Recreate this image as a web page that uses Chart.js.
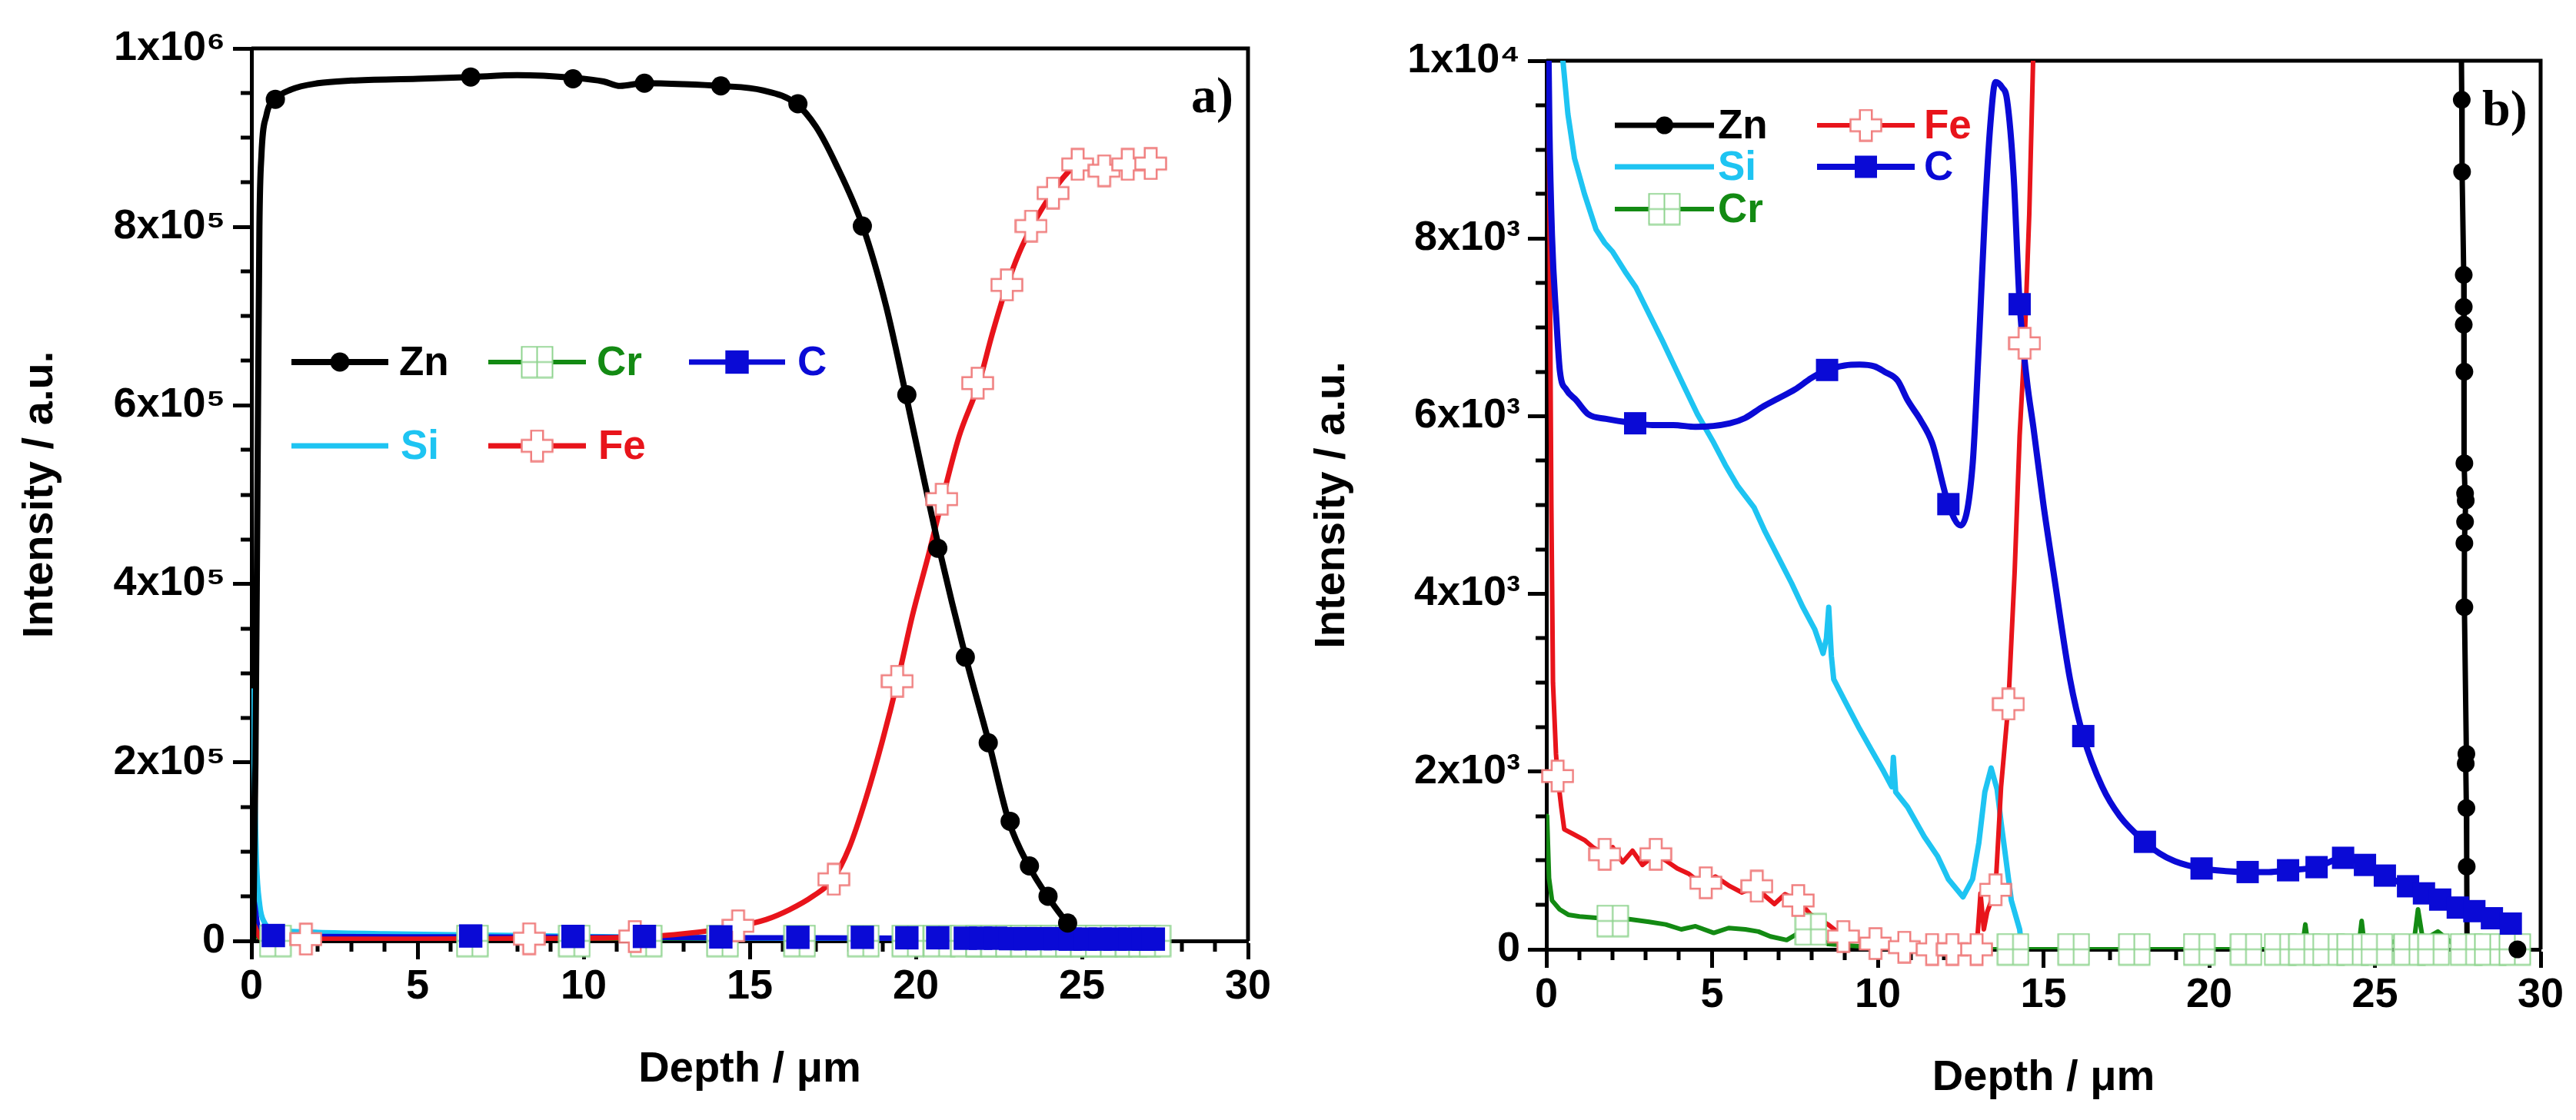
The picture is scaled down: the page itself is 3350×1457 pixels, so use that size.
<!DOCTYPE html>
<html>
<head>
<meta charset="utf-8">
<script src="https://cdn.jsdelivr.net/npm/chart.js@4.4.1/dist/chart.umd.min.js"></script>
<style>
    body { margin: 0; background: #fff; }
    #wrap { position: relative; width: 3350px; height: 1457px; }
    .panel { position: absolute; top: 0; width: 1675px; height: 1457px; }
</style>
</head>
<body>
<div id="wrap">
    <div class="panel" style="left:0"><canvas id="chartA" width="1675" height="1457"></canvas></div>
    <div class="panel" style="left:1675px"><canvas id="chartB" width="1675" height="1457"></canvas></div>
</div>
<script>
// ---------- axis ticks ----------
const xTickVals = [0, 5, 10, 15, 20, 25, 30];
const yTickValsA = [0, 200000, 400000, 600000, 800000, 1000000];
const yTickLabelsA = ['0', '2x10⁵', '4x10⁵', '6x10⁵', '8x10⁵', '1x10⁶'];
const yTickValsB = [0, 2000, 4000, 6000, 8000, 10000];
const yTickLabelsB = ['0', '2x10³', '4x10³', '6x10³', '8x10³', '1x10⁴'];

// ---------- panel a) ----------
const znDepthA = [0.05, 0.12, 0.18, 0.24, 0.3, 0.45, 0.72, 1.2, 2, 3, 5, 6.6, 8, 9.7, 10.6, 11.1, 11.8, 13, 14.1, 15.4, 16.4, 17, 17.6, 18.4, 19.1, 19.7, 20.2, 20.7, 21.5, 22.2, 22.8, 23.4, 24, 24.6, 24.9];
const znIntA = [0, 200000, 500000, 800000, 880000, 925000, 943000, 954000, 961000, 964000, 966000, 968000, 970000, 967000, 963000, 958000, 961000, 960000, 958000, 953000, 938000, 912000, 870000, 801000, 712000, 612000, 525000, 440000, 318000, 222000, 134000, 84000, 48000, 18000, 5000];
const znMarkDepthA = [0.72, 6.6, 9.68, 11.83, 14.13, 16.45, 18.39, 19.73, 20.66, 21.49, 22.18, 22.84, 23.42, 23.98, 24.57];
const znMarkIntA = [943000, 968000, 966000, 961000, 958000, 938000, 801000, 612000, 440000, 318000, 222000, 134000, 84000, 50000, 20000];

const feDepthA = [0.05, 0.3, 2, 5, 8, 10, 12, 13.5, 14.6, 15.5, 16.2, 16.9, 17.5, 18, 18.5, 19, 19.45, 19.9, 20.4, 20.8, 21.3, 21.9, 22.3, 22.75, 23.1, 23.5, 24.1, 24.5, 24.9, 25.3, 25.7, 26.4, 27.1];
const feIntA = [20000, 3000, 2000, 2000, 2500, 3000, 5000, 10000, 16000, 24000, 35000, 50000, 69000, 105000, 160000, 225000, 291000, 365000, 435000, 495000, 565000, 625000, 680000, 735000, 770000, 801000, 838000, 858000, 870000, 866000, 863000, 869000, 872000];
const feMarkDepthA = [1.64, 8.36, 11.54, 14.65, 17.53, 19.44, 20.78, 21.86, 22.74, 23.47, 24.13, 24.87, 25.67, 26.38, 27.07];
const feMarkIntA = [2000, 2500, 5000, 17000, 69000, 291000, 495000, 625000, 735000, 801000, 838000, 870000, 863000, 870000, 871000];

const siDepthA = [0.03, 0.08, 0.15, 0.25, 0.4, 0.6, 1, 2, 4, 7, 10, 14, 18, 22, 27.3];
const siIntA = [280000, 200000, 90000, 40000, 20000, 13000, 11000, 9500, 8000, 6500, 5000, 3500, 2500, 1500, 1000];

const cDepthA = [0.03, 0.1, 0.2, 0.4, 0.7, 2, 6, 10, 15, 20, 27.2];
const cIntA = [55000, 40000, 15000, 8000, 6000, 5000, 4500, 4000, 3500, 3000, 2000];
const cMarkDepthA = [0.66, 6.6, 9.68, 11.83, 14.13, 16.45, 18.39, 19.73, 20.66, 21.49, 21.95, 22.4, 22.85, 23.3, 23.75, 24.2, 24.65, 25.1, 25.55, 26.0, 26.45, 26.85, 27.15];
const cMarkIntA = [6000, 5500, 5000, 5000, 4500, 4000, 4000, 3500, 3500, 3000, 3000, 3000, 2500, 2500, 2500, 2500, 2000, 2000, 2000, 2000, 2000, 2000, 2000];

const crDepthA = [0.03, 0.2, 1, 27.2];
const crIntA = [15000, 4000, 1500, 1000];
const crMarkDepthA = [0.72, 6.65, 9.72, 11.88, 14.18, 16.5, 18.42, 19.76, 20.7, 21.52, 21.98, 22.43, 22.88, 23.33, 23.78, 24.23, 24.68, 25.13, 25.58, 26.03, 26.48, 26.88, 27.2];
const crMarkIntA = [0, 0, 0, 0, 0, 0, 0, 0, 0, 0, 0, 0, 0, 0, 0, 0, 0, 0, 0, 0, 0, 0, 0];

// ---------- panel b) ----------
const znDepthB = [27.6, 27.62, 27.63, 27.68, 27.68, 27.68, 27.7, 27.7, 27.72, 27.74, 27.72, 27.7, 27.7, 27.76, 27.74, 27.76, 27.77, 27.78, 29.3];
const znIntB = [10500, 9560, 8750, 7590, 7230, 7030, 6500, 5470, 5130, 5050, 4810, 4570, 3850, 2200, 2090, 1590, 930, 0, 0];
const znMarkDepthB = [27.62, 27.63, 27.68, 27.68, 27.68, 27.7, 27.7, 27.72, 27.74, 27.72, 27.7, 27.7, 27.76, 27.74, 27.76, 27.77, 29.3];
const znMarkIntB = [9560, 8750, 7590, 7230, 7030, 6500, 5470, 5130, 5050, 4810, 4570, 3850, 2200, 2090, 1590, 930, 0];

const cDepthB = [0.05, 0.09, 0.17, 0.3, 0.41, 0.6, 0.9, 1.27, 1.8, 2.68, 3.2, 3.83, 4.5, 5.54, 6.0, 6.5, 7.0, 7.5, 8.0, 8.47, 9.0, 9.45, 9.9, 10.2, 10.6, 10.9, 11.3, 11.64, 12.13, 12.5, 12.86, 13.05, 13.23, 13.4, 13.55, 13.75, 13.9, 14.1, 14.28, 14.5, 14.7, 15.0, 15.3, 15.8, 16.2, 16.77, 17.3, 18.06, 18.5, 18.97, 19.77, 20.5, 21.16, 21.8, 22.38, 23.24, 24.04, 24.7, 25.3, 26.0, 26.48, 26.97, 27.5, 28.0, 28.53, 29.1];
const cIntB = [10600, 9300, 8030, 7100, 6500, 6300, 6180, 6020, 5970, 5920, 5900, 5900, 5880, 5920, 5980, 6100, 6200, 6300, 6430, 6520, 6570, 6580, 6560, 6500, 6400, 6180, 5950, 5700, 5010, 4770, 5450, 6800, 8270, 9300, 9760, 9700, 9560, 8700, 7260, 6400, 5860, 5000, 4250, 3040, 2400, 1830, 1500, 1210, 1080, 990, 910, 880, 870, 870, 890, 925, 1030, 950, 830, 710, 630, 560, 470, 430, 350, 290];
const cMarkDepthB = [2.68, 8.47, 12.13, 14.28, 16.2, 18.06, 19.77, 21.16, 22.38, 23.24, 24.04, 24.7, 25.3, 26.0, 26.48, 26.97, 27.5, 28.0, 28.53, 29.1];
const cMarkIntB = [5920, 6520, 5010, 7260, 2400, 1210, 910, 870, 890, 925, 1030, 950, 830, 710, 630, 560, 470, 430, 350, 290];

const siDepthB = [0.45, 0.5, 0.65, 0.85, 1.15, 1.5, 1.76, 2.0, 2.37, 2.7, 3.1, 3.5, 3.83, 4.2, 4.56, 5.05, 5.4, 5.78, 6.27, 6.6, 7.0, 7.4, 7.74, 8.1, 8.35, 8.45, 8.52, 8.6, 8.67, 9.0, 9.45, 9.8, 10.18, 10.42, 10.47, 10.54, 10.9, 11.4, 11.8, 12.13, 12.57, 12.86, 13.05, 13.23, 13.42, 13.6, 13.72, 14.03, 14.28, 14.35];
const siIntB = [10500, 10000, 9400, 8900, 8500, 8100, 7950, 7850, 7630, 7450, 7150, 6850, 6590, 6300, 6020, 5700, 5450, 5210, 4970, 4700, 4410, 4120, 3850, 3600, 3330, 3500, 3850, 3300, 3040, 2800, 2480, 2250, 2000, 1830, 2160, 1770, 1600, 1270, 1050, 790, 590, 790, 1200, 1770, 2040, 1800, 1430, 550, 225, 0];

const feDepthB = [0.05, 0.1, 0.15, 0.2, 0.29, 0.34, 0.45, 0.54, 0.8, 1.15, 1.4, 1.76, 2.0, 2.3, 2.6, 2.9, 3.3, 3.6, 3.95, 4.3, 4.6, 4.81, 5.1, 5.54, 5.9, 6.35, 6.6, 6.88, 7.2, 7.6, 7.98, 8.5, 8.96, 9.5, 9.93, 10.4, 10.8, 11.2, 11.64, 12.25, 12.7, 12.98, 13.1, 13.2, 13.3, 13.55, 13.72, 13.94, 14.13, 14.28, 14.43, 14.57, 14.72];
const feIntB = [10500, 8000, 5000, 3000, 2200, 1950, 1600, 1350, 1300, 1230, 1150, 1070, 1150, 980, 1110, 950, 1070, 1000, 910, 850, 760, 750, 820, 710, 640, 710, 600, 510, 620, 550, 390, 280, 145, 90, 65, 40, 25, 10, 0, 0, 30, 0, 630, 225, 420, 670, 1830, 2760, 4250, 5780, 6820, 8270, 10500];
const feMarkDepthB = [0.34, 1.76, 3.3, 4.81, 6.35, 7.6, 8.96, 9.93, 10.8, 11.64, 12.25, 12.98, 13.55, 13.94, 14.43];
const feMarkIntB = [1950, 1070, 1070, 750, 710, 550, 145, 65, 25, 0, 0, 0, 670, 2760, 6820];

const crDepthB = [0.02, 0.08, 0.17, 0.4, 0.66, 1.0, 1.64, 2.0, 2.5, 3.1, 3.6, 4.07, 4.5, 5.05, 5.5, 6.0, 6.4, 6.76, 7.25, 7.6, 7.9, 8.5, 10, 12, 14, 16, 18, 20, 22, 22.8, 22.9, 23.0, 23.5, 24.5, 24.6, 24.7, 25.5, 26.2, 26.3, 26.45, 26.9, 27.3, 27.6, 28.2, 29.3];
const crIntB = [1500, 800, 550, 450, 390, 370, 350, 310, 340, 310, 280, 225, 260, 185, 240, 225, 200, 145, 105, 180, 225, 60, 20, 0, 0, 0, 0, 0, 0, 0, 280, 0, 50, 0, 320, 0, 80, 150, 450, 100, 200, 80, 150, 0, 0];
const crMarkDepthB = [2.0, 7.98, 14.08, 15.91, 17.74, 19.7, 21.11, 22.14, 22.87, 23.6, 24.33, 25.06, 26.04, 26.77, 27.75, 28.48, 29.22];
const crMarkIntB = [320, 225, 0, 0, 0, 0, 0, 0, 0, 0, 0, 0, 0, 0, 0, 0, 0];

// ---------- styles ----------
const FONT = "'Liberation Sans', Arial, sans-serif";
const COL = { zn: '#000000', cr: '#138a13', c: '#0a0ad6', si: '#1ec4f2', fe: '#e8141b' };

function crossMarker(size, stroke, fill) {
    const c = document.createElement('canvas');
    c.width = c.height = size;
    const g = c.getContext('2d');
    const p = 1.5, a = size * 0.32, b = size * 0.68, e = size - p;
    g.beginPath();
    g.moveTo(a, p); g.lineTo(b, p); g.lineTo(b, a); g.lineTo(e, a); g.lineTo(e, b);
    g.lineTo(b, b); g.lineTo(b, e); g.lineTo(a, e); g.lineTo(a, b); g.lineTo(p, b);
    g.lineTo(p, a); g.lineTo(a, a); g.closePath();
    g.fillStyle = fill; g.fill();
    g.strokeStyle = stroke; g.lineWidth = 2.5; g.stroke();
    return c;
}

function gridMarker(size, stroke, fill) {
    const c = document.createElement('canvas');
    c.width = c.height = size;
    const g = c.getContext('2d');
    const p = 1.5, m = size / 2;
    g.fillStyle = fill;
    g.fillRect(p, p, size - 2 * p, size - 2 * p);
    g.strokeStyle = stroke; g.lineWidth = 2;
    g.strokeRect(p, p, size - 2 * p, size - 2 * p);
    g.beginPath();
    g.moveTo(m, p); g.lineTo(m, size - p);
    g.moveTo(p, m); g.lineTo(size - p, m);
    g.stroke();
    return c;
}

const feMark = crossMarker(43, '#f07f7f', '#ffffff');
const crMark = gridMarker(43, '#8fd48f', '#ffffff');

function pts(xs, ys) {
    return xs.map((x, i) => ({ x: x, y: ys[i] }));
}

function lineSet(label, xs, ys, color, width, smooth, order) {
    return {
        label: label,
        data: pts(xs, ys),
        showLine: true,
        borderColor: color,
        backgroundColor: color,
        borderWidth: width,
        borderJoinStyle: 'round',
        borderCapStyle: 'round',
        pointRadius: 0,
        pointHoverRadius: 0,
        cubicInterpolationMode: smooth ? 'monotone' : 'default',
        tension: 0,
        order: order
    };
}

function markSet(label, xs, ys, style, radius, fill, stroke, order) {
    return {
        label: label,
        data: pts(xs, ys),
        showLine: false,
        pointStyle: style,
        pointRadius: radius,
        pointHoverRadius: radius,
        pointBackgroundColor: fill,
        pointBorderColor: stroke,
        pointBorderWidth: 0,
        clip: false,
        order: order
    };
}

// ---------- plugin: frame, minor ticks, legend, panel letter ----------
const extras = {
    id: 'extras',
    beforeDatasetsDraw(chart, args, opts) {
        const { ctx, chartArea: a, scales: { x, y } } = chart;
        ctx.save();
        ctx.strokeStyle = '#000';
        ctx.lineWidth = 5;
        ctx.beginPath();
        ctx.moveTo(a.left, a.top);
        ctx.lineTo(a.right, a.top);
        ctx.lineTo(a.right, a.bottom);
        ctx.stroke();

        // minor ticks
        ctx.beginPath();
        for (let v = 1; v < 30; v++) {
            if (v % 5 === 0) continue;
            const px = Math.round(x.getPixelForValue(v));
            ctx.moveTo(px, a.bottom);
            ctx.lineTo(px, a.bottom + 14);
        }
        for (let i = 1; i < 20; i++) {
            if (i % 4 === 0) continue;
            const py = Math.round(y.getPixelForValue(i * opts.yMinor));
            ctx.moveTo(a.left, py);
            ctx.lineTo(a.left - 14, py);
        }
        ctx.stroke();
        ctx.restore();
    },
    afterDatasetsDraw(chart, args, opts) {
        const ctx = chart.ctx;
        const sets = chart.data.datasets;
        const find = (label) => sets.find(d => d.label === label);
        ctx.save();
        opts.legend.forEach(item => {
            const ln = find(item.line);
            ctx.strokeStyle = ln.borderColor;
            ctx.lineWidth = ln.borderWidth;
            ctx.beginPath();
            ctx.moveTo(item.x1, item.y);
            ctx.lineTo(item.x2, item.y);
            ctx.stroke();
            if (item.mark) {
                const mk = find(item.mark);
                ctx.fillStyle = mk.pointBackgroundColor;
                ctx.strokeStyle = mk.pointBorderColor;
                Chart.helpers.drawPoint(ctx, {
                    pointStyle: mk.pointStyle,
                    radius: mk.pointRadius,
                    rotation: 0,
                    borderWidth: 0
                }, (item.x1 + item.x2) / 2, item.y);
            }
            ctx.font = 'bold 53px ' + FONT;
            ctx.textBaseline = 'middle';
            ctx.textAlign = 'left';
            ctx.fillStyle = ln.borderColor;
            ctx.fillText(item.text, item.tx, item.y + 2);
        });
        ctx.font = "bold 66px 'Liberation Serif', 'Times New Roman', serif";
        ctx.fillStyle = '#000';
        ctx.textBaseline = 'alphabetic';
        ctx.fillText(opts.tag.text, opts.tag.x, opts.tag.y);
        ctx.restore();
    }
};

function makeChart(id, cfg) {
    const tickFont = { family: FONT, size: 54, weight: 'bold' };
    const titleFont = { family: FONT, size: 56, weight: 'bold' };
    return new Chart(document.getElementById(id), {
        type: 'scatter',
        data: { datasets: cfg.datasets },
        plugins: [extras],
        options: {
            responsive: false,
            devicePixelRatio: 1,
            animation: false,
            layout: { padding: { top: cfg.padTop, right: cfg.padRight, left: 0, bottom: 0 } },
            plugins: {
                legend: { display: false },
                tooltip: { enabled: false },
                extras: { legend: cfg.legend, tag: cfg.tag, yMinor: cfg.yMax / 20 }
            },
            scales: {
                x: {
                    type: 'linear',
                    min: 0,
                    max: 30,
                    afterBuildTicks: s => { s.ticks = xTickVals.map(v => ({ value: v })); },
                    afterFit: s => { s.height = cfg.xHeight; },
                    ticks: { color: '#000', font: tickFont, padding: 4, maxRotation: 0 },
                    grid: { drawOnChartArea: false, drawTicks: true, tickLength: 24, tickWidth: 5, tickColor: '#000' },
                    border: { display: true, width: 5, color: '#000' },
                    title: { display: true, text: 'Depth / μm', color: '#000', font: titleFont, padding: { top: 0, bottom: cfg.titlePad } }
                },
                y: {
                    type: 'linear',
                    min: 0,
                    max: cfg.yMax,
                    afterBuildTicks: s => { s.ticks = cfg.yVals.map(v => ({ value: v })); },
                    afterFit: s => { s.width = cfg.yWidth; },
                    ticks: { color: '#000', font: tickFont, padding: 10, callback: (v, i) => cfg.yLabels[i] },
                    grid: { drawOnChartArea: false, drawTicks: true, tickLength: 24, tickWidth: 5, tickColor: '#000' },
                    border: { display: true, width: 5, color: '#000' },
                    title: { display: true, text: 'Intensity / a.u.', color: '#000', font: titleFont, padding: { top: cfg.yTitlePad, bottom: 0 } }
                }
            }
        }
    });
}

makeChart('chartA', {
    padTop: 63, padRight: 52, xHeight: 233, yWidth: 327, titlePad: 32, yTitlePad: 19,
    yMax: 1000000, yVals: yTickValsA, yLabels: yTickLabelsA,
    tag: { text: 'a)', x: 1549, y: 146 },
    legend: [
        { line: 'Zn', mark: 'Zn markers', x1: 379, x2: 505, y: 471, tx: 519, text: 'Zn' },
        { line: 'Cr', mark: 'Cr markers', x1: 635, x2: 762, y: 471, tx: 776, text: 'Cr' },
        { line: 'C', mark: 'C markers', x1: 896, x2: 1021, y: 471, tx: 1037, text: 'C' },
        { line: 'Si', mark: null, x1: 379, x2: 505, y: 580, tx: 521, text: 'Si' },
        { line: 'Fe', mark: 'Fe markers', x1: 635, x2: 762, y: 580, tx: 778, text: 'Fe' }
    ],
    datasets: [
        markSet('Zn markers', znMarkDepthA, znMarkIntA, 'circle', 12.5, COL.zn, COL.zn, 1),
        markSet('C markers', cMarkDepthA, cMarkIntA, 'rect', 21.5, COL.c, COL.c, 2),
        markSet('Fe markers', feMarkDepthA, feMarkIntA, feMark, 21, '#fff', '#f07f7f', 3),
        markSet('Cr markers', crMarkDepthA, crMarkIntA, crMark, 21, '#fff', '#8fd48f', 4),
        lineSet('Zn', znDepthA, znIntA, COL.zn, 8, true, 10),
        lineSet('Fe', feDepthA, feIntA, COL.fe, 7, true, 11),
        lineSet('C', cDepthA, cIntA, COL.c, 7, true, 12),
        lineSet('Si', siDepthA, siIntA, COL.si, 7, true, 13),
        lineSet('Cr', crDepthA, crIntA, COL.cr, 6, true, 14)
    ]
});

makeChart('chartB', {
    padTop: 79, padRight: 46, xHeight: 222, yWidth: 336, titlePad: 21, yTitlePad: 24,
    yMax: 10000, yVals: yTickValsB, yLabels: yTickLabelsB,
    tag: { text: 'b)', x: 1553, y: 163 },
    legend: [
        { line: 'Zn', mark: 'Zn markers', x1: 425, x2: 554, y: 163, tx: 559, text: 'Zn' },
        { line: 'Fe', mark: 'Fe markers', x1: 688, x2: 815, y: 163, tx: 827, text: 'Fe' },
        { line: 'Si', mark: null, x1: 425, x2: 554, y: 217, tx: 559, text: 'Si' },
        { line: 'C', mark: 'C markers', x1: 688, x2: 815, y: 217, tx: 827, text: 'C' },
        { line: 'Cr', mark: 'Cr markers', x1: 425, x2: 554, y: 272, tx: 559, text: 'Cr' }
    ],
    datasets: [
        markSet('Zn markers', znMarkDepthB, znMarkIntB, 'circle', 11.5, COL.zn, COL.zn, 1),
        markSet('C markers', cMarkDepthB, cMarkIntB, 'rect', 20.5, COL.c, COL.c, 2),
        markSet('Fe markers', feMarkDepthB, feMarkIntB, feMark, 21, '#fff', '#f07f7f', 3),
        markSet('Cr markers', crMarkDepthB, crMarkIntB, crMark, 21, '#fff', '#8fd48f', 4),
        lineSet('Zn', znDepthB, znIntB, COL.zn, 7, false, 10),
        lineSet('C', cDepthB, cIntB, COL.c, 8, true, 11),
        lineSet('Fe', feDepthB, feIntB, COL.fe, 6, false, 12),
        lineSet('Si', siDepthB, siIntB, COL.si, 7, false, 13),
        lineSet('Cr', crDepthB, crIntB, COL.cr, 6, false, 14)
    ]
});
</script>
</body>
</html>
